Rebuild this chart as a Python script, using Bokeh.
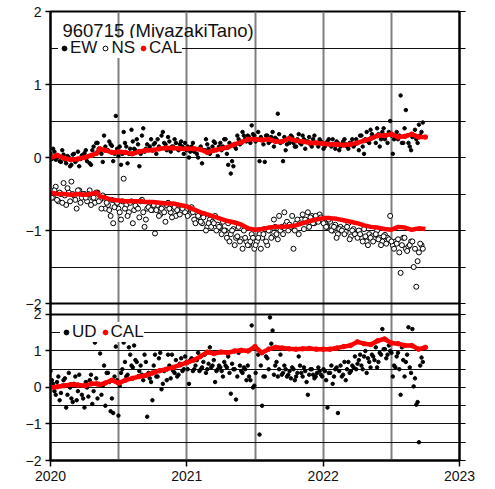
import numpy as np
from bokeh.plotting import figure
from bokeh.models import (FixedTicker, LinearAxis, Label, Legend, LegendItem,
                          Range1d, ColumnDataSource, Span, Grid)
from bokeh.embed import file_html
from bokeh.resources import INLINE

FONT = "Liberation Sans"

# ---------------- data ----------------
# observation epochs (decimal year): two interleaved weekly series
WEEK = np.arange(143)
T_OBS = 2020 + WEEK * 7 / 365.25
T_OBS2 = 2020 + (WEEK + 0.5) * 7 / 365.25

EW = [0.05, 0.12, -0.03, 0.02, -0.06, 0.04, -0.08, 0.0, -0.1, 0.05, -0.04, -0.12, 0.03,
      0.06, -0.05, -0.08, 0.1, 0.05, 0.2, 0.08, -0.06, 0.15, 0.1, 0.18, -0.05, 0.57,
      0.02, -0.1, 0.35, 0.15, 0.05, 0.38, 0.12, 0.25, -0.12, 0.3, 0.08, 0.18, 0.15,
      0.1, 0.2, 0.25, 0.12, 0.35, 0.18, 0.28, 0.08, 0.15, 0.2, 0.1, 0.22, 0.05,
      0.1, 0.0, 0.15, 0.08, 0.05, 0.12, -0.08, 0.1, 0.18, 0.05, 0.15, 0.2, 0.02,
      0.2, 0.15, 0.25, -0.1, -0.22, -0.12, 0.12, 0.25, 0.2, 0.3, 0.22, 0.28, 0.44,
      0.3, 0.25, -0.05, 0.25, -0.06, 0.3, 0.22, 0.35, 0.27, 0.6, 0.2, -0.05, 0.1,
      0.25, 0.3, 0.2, 0.15, 0.32, 0.18, 0.25, 0.22, 0.28, 0.15, 0.3, 0.2, 0.25,
      0.2, 0.15, 0.22, 0.18, 0.25, 0.12, 0.2, 0.15, 0.22, 0.18, 0.12, 0.2, 0.15,
      0.25, 0.1, 0.3, 0.05, 0.35, 0.2, 0.32, 0.28, 0.4, 0.15, 0.35, 0.25, 0.2,
      0.5, 0.05, 0.28, 0.25, 0.85, 0.2, 0.65, 0.2, 0.1, 0.3, 0.25, 0.45, 0.35]
EW2 = [-0.02, 0.08, 0.0, -0.05, 0.1, -0.03, 0.02, -0.12, 0.04, -0.06, 0.08, -0.02, 0.0,
       0.1, 0.02, -0.1, 0.15, 0.2, 0.12, 0.05, 0.3, 0.1, 0.22, 0.16, 0.05, 0.12,
       0.15, 0.05, 0.2, -0.08, 0.12, 0.22, 0.1, 0.18, 0.05, 0.4, 0.12, 0.1, 0.25,
       0.18, 0.05, 0.15, 0.3, 0.2, 0.1, 0.22, 0.15, 0.25, 0.12, 0.18, 0.15, 0.2,
       0.15, 0.08, 0.2, 0.12, 0.0, 0.15, 0.1, 0.25, 0.12, 0.08, 0.22, 0.1, 0.15,
       0.1, 0.25, 0.05, 0.2, -0.05, 0.15, 0.3, 0.18, 0.35, 0.25, 0.3, 0.2, 0.32,
       0.22, 0.35, 0.28, 0.18, 0.3, 0.2, 0.28, 0.15, 0.25, 0.32, 0.22, 0.28, 0.18,
       0.2, 0.28, 0.15, 0.25, 0.2, 0.3, 0.12, 0.22, 0.18, 0.25, 0.2, 0.15, 0.22,
       0.12, 0.2, 0.25, 0.15, 0.18, 0.22, 0.1, 0.18, 0.25, 0.15, 0.2, 0.25, 0.18,
       0.2, 0.3, 0.15, 0.25, 0.22, 0.38, 0.28, 0.2, 0.32, 0.25, 0.4, 0.3, 0.35,
       0.3, 0.25, 0.35, 0.3, 0.2, 0.4, 0.3, 0.15, 0.28, 0.38, 0.2, 0.3, 0.48]

NS = [-0.45, -0.55, -0.4, -0.6, -0.5, -0.35, -0.65, -0.48, -0.33, -0.52, -0.7, -0.45, -0.55,
      -0.5, -0.6, -0.45, -0.55, -0.62, -0.48, -0.58, -0.52, -0.7, -0.65, -0.8, -0.9, -0.6,
      -0.7, -0.85, -0.29, -0.65, -0.75, -0.6, -0.72, -0.68, -0.82, -0.58, -0.95, -0.7, -0.62,
      -0.72, -1.04, -0.65, -0.78, -0.68, -0.88, -0.62, -0.75, -0.7, -0.8, -0.66, -0.74, -0.7,
      -0.72, -0.78, -0.68, -0.85, -0.75, -0.82, -0.9, -0.78, -0.95, -0.85, -0.88, -0.8, -0.92,
      -0.95, -0.88, -1.0, -0.9, -1.05, -0.98, -1.1, -0.95, -1.12, -1.0, -1.15, -1.2, -1.05,
      -1.25, -1.15, -1.05, -1.1, -0.98, -1.2, -1.0, -1.08, -0.95, -1.12, -1.0, -1.05, -0.92,
      -1.0, -0.95, -1.25, -0.9, -1.05, -0.85, -0.98, -0.88, -0.95, -0.8, -0.9, -0.85, -0.78,
      -0.85, -0.9, -0.95, -0.88, -1.0, -0.92, -1.05, -0.95, -0.98, -1.02, -0.9, -1.08, -0.98,
      -1.05, -1.0, -1.1, -0.98, -1.15, -1.05, -1.08, -1.12, -1.0, -1.1, -1.15, -1.06, -1.1,
      -0.8, -1.2, -1.15, -1.12, -1.58, -1.1, -1.25, -1.22, -1.15, -1.5, -1.77, -1.3, -1.2]
NS2 = [-0.55, -0.45, -0.58, -0.48, -0.62, -0.52, -0.42, -0.6, -0.5, -0.58, -0.45, -0.62, -0.5,
       -0.55, -0.5, -0.65, -0.55, -0.48, -0.6, -0.7, -0.55, -0.62, -0.72, -0.58, -0.68, -0.62,
       -0.75, -0.6, -0.7, -0.8, -0.62, -0.9, -0.66, -0.7, -0.6, -0.75, -0.85, -0.68, -0.72,
       -0.65, -0.72, -0.8, -0.7, -0.75, -0.65, -0.7, -0.82, -0.68, -0.72, -0.78, -0.7, -0.75,
       -0.8, -0.7, -0.75, -0.9, -0.8, -0.88, -0.82, -1.0, -0.9, -0.95, -0.9, -1.0, -0.95,
       -1.05, -1.0, -1.1, -1.15, -1.0, -1.2, -1.08, -1.15, -1.25, -1.1, -1.2, -1.15, -1.1,
       -1.2, -1.1, -1.25, -1.05, -1.15, -1.0, -1.1, -0.85, -1.05, -0.8, -0.95, -0.75, -0.88,
       -0.92, -0.8, -1.0, -0.85, -0.9, -0.78, -0.85, -0.75, -0.82, -0.9, -0.8, -0.88, -0.82,
       -0.9, -0.95, -0.85, -1.0, -0.95, -1.1, -0.98, -1.0, -1.05, -0.95, -1.12, -1.0, -1.05,
       -1.1, -1.05, -1.15, -1.08, -1.2, -1.1, -1.15, -1.05, -1.12, -1.2, -1.08, -1.18, -1.12,
       -1.15, -1.25, -1.18, -1.3, -1.2, -1.1, -1.28, -1.2, -1.15, -1.25, -1.42, -1.18, -1.25]

UD = [0.45, 0.1, -0.2, 0.3, -0.15, 0.2, -0.55, 0.4, -0.3, 0.1, -0.35, 0.35, -0.2,
      -0.55, 0.0, 0.2, -0.45, 1.23, -0.3, 0.93, 0.05, -0.5, 0.4, -0.65, -0.7, 1.12,
      -0.77, 0.4, 1.23, 0.3, 1.1, 0.6, 1.15, 0.7, 0.45, 0.35, 0.9, -0.8, 0.25,
      -0.35, 0.9, 0.3, 0.95, 0.1, 0.5, 0.9, 0.25, 0.45, 0.75, 0.35, 0.8, 0.5,
      0.7, 0.1, 0.8, 0.5, 0.75, 0.45, 0.55, 0.9, 0.5, 1.1, 0.6, 0.15, 0.5,
      0.55, 0.3, 0.6, 0.85, -0.17, 0.5, -0.33, 0.95, 0.45, 0.55, 0.2, 0.3, 1.7,
      0.05, 1.05, -1.29, -0.5, 0.3, 0.8, 1.92, 1.56, 0.6, 0.3, 0.9, 0.4, 0.5,
      0.35, 0.25, 0.5, 0.3, 0.85, 0.4, 0.55, 0.15, 0.35, 0.5, 0.25, 0.4, 0.45,
      0.3, 0.45, -0.55, 0.4, 0.1, 0.5, -0.7, 0.6, 0.35, 0.2, 0.7, 0.45, 0.55,
      0.5, 0.75, 0.6, 0.85, 0.4, 0.7, 0.9, 0.75, 0.55, 0.95, 1.6, 1.05, 0.9,
      1.0, 0.3, 0.55, 0.95, -0.2, 0.75, 0.7, 1.65, 0.4, 0.03, -0.47, -1.5, 0.82]
UD2 = [0.2, -0.1, 0.15, -0.35, 0.05, 0.25, -0.2, 0.0, -0.4, 0.3, -0.1, 0.05, -0.3,
       0.15, -0.25, 0.35, -0.1, 0.25, 0.1, -0.2, 0.6, 0.4, 0.15, -0.3, 0.3, 0.2,
       0.05, 0.5, 0.7, 0.35, 0.9, 0.55, 0.75, 0.3, 0.6, 0.2, 0.7, 0.4, 0.15,
       0.6, 0.3, 0.8, -0.05, 0.45, 0.2, 0.6, 0.9, 0.4, 0.3, 0.65, 0.45, 0.85,
       0.5, 0.75, 0.45, 0.6, 0.95, 0.5, 0.7, 0.4, 0.65, 0.55, 0.75, 0.45, 0.6,
       0.45, 0.7, 0.55, 0.4, 0.65, 0.5, 0.3, 0.6, 0.4, 0.5, 0.6, 0.2, 0.0,
       0.4, 0.9, 0.6, 0.3, 0.85, 0.5, 1.2, 0.35, 0.7, 0.5, 0.35, 0.6, 0.3,
       0.45, 0.55, 0.2, 0.4, 0.6, 0.3, 0.45, -0.2, 0.5, 0.35, 0.3, 0.55, 0.35,
       0.5, 0.2, 0.4, 0.6, 0.3, 0.55, 0.45, 0.3, 0.7, 0.5, 0.4, 0.6, 0.85,
       0.65, 0.9, 0.5, 1.0, 0.8, 0.55, 0.85, 1.1, 0.7, 0.9, 1.05, 0.8, 1.15,
       0.95, 0.6, 0.85, 0.5, 1.1, 0.3, 0.9, 0.55, 1.6, 0.25, -0.4, 0.6, 0.7]

T_CAL = [2020.0, 2020.05, 2020.1, 2020.15, 2020.2, 2020.25, 2020.3, 2020.34, 2020.36, 2020.4,
         2020.45, 2020.5, 2020.55, 2020.6, 2020.65, 2020.7, 2020.75, 2020.8, 2020.85, 2020.9,
         2020.95, 2021.0, 2021.05, 2021.1, 2021.15, 2021.2, 2021.25, 2021.3, 2021.35, 2021.4,
         2021.45, 2021.5, 2021.55, 2021.6, 2021.65, 2021.7, 2021.75, 2021.8, 2021.85, 2021.9,
         2021.95, 2022.0, 2022.05, 2022.1, 2022.15, 2022.2, 2022.25, 2022.3, 2022.35, 2022.4,
         2022.45, 2022.5, 2022.55, 2022.6, 2022.65, 2022.7, 2022.75]

EW_CAL = [0.0, 0.03, -0.01, -0.03, -0.02, 0.0, 0.03, 0.06, 0.12, 0.1,
          0.07, 0.08, 0.07, 0.05, 0.08, 0.1, 0.1, 0.12, 0.13, 0.13,
          0.12, 0.12, 0.12, 0.11, 0.07, 0.1, 0.12, 0.14, 0.18, 0.21,
          0.25, 0.25, 0.24, 0.25, 0.22, 0.22, 0.26, 0.23, 0.22, 0.2,
          0.2, 0.19, 0.18, 0.18, 0.17, 0.18, 0.2, 0.23, 0.26, 0.3,
          0.3, 0.32, 0.28, 0.29, 0.32, 0.28, 0.28]

NS_CAL = [-0.48, -0.5, -0.5, -0.51, -0.5, -0.51, -0.5, -0.48, -0.53, -0.55,
          -0.58, -0.59, -0.6, -0.6, -0.6, -0.61, -0.61, -0.62, -0.63, -0.63,
          -0.65, -0.67, -0.71, -0.75, -0.78, -0.81, -0.84, -0.87, -0.89, -0.92,
          -0.97, -0.99, -0.98, -0.96, -0.95, -0.95, -0.94, -0.93, -0.9, -0.87,
          -0.85, -0.83, -0.83, -0.84, -0.86, -0.88, -0.9, -0.93, -0.95, -0.96,
          -0.98, -0.99, -0.95, -0.96, -0.99, -0.97, -0.98]

UD_CAL = [0.0, 0.02, 0.05, 0.08, 0.07, 0.05, 0.1, 0.1, 0.08, 0.12,
          0.2, 0.12, 0.2, 0.25, 0.3, 0.33, 0.4, 0.46, 0.5, 0.55,
          0.62, 0.68, 0.75, 0.85, 0.97, 0.93, 0.97, 0.95, 1.0, 1.02,
          1.0, 1.12, 0.95, 1.05, 1.1, 1.08, 1.06, 1.05, 1.06, 1.07,
          1.05, 1.05, 1.05, 1.08, 1.12, 1.15, 1.25, 1.2, 1.18, 1.28,
          1.33, 1.22, 1.2, 1.15, 1.15, 1.05, 1.1]

Y_LABEL_TICKS = [-2, -1, 0, 1, 2]
Y_GRID_TICKS = [-1.5, -1, -0.5, 0, 0.5, 1, 1.5]
Y_RIGHT_TICKS = [-2, -1.5, -1, -0.5, 0, 0.5, 1, 1.5, 2]
X_GRID_TICKS = [2020.5, 2021, 2021.5, 2022, 2022.5]
X_LABEL_TICKS = [2020, 2021, 2022, 2023]

# one frame holds both panels: the main y range is in EW/NS units (top panel),
# the "ud" range places the UD panel in the lower part of the same frame
MAIN_RANGE = (-4.15, 2.0)
UD_RANGE = (-2.0, 10.3)


def ud_to_main(v):
    k = (MAIN_RANGE[1] - MAIN_RANGE[0]) / (UD_RANGE[1] - UD_RANGE[0])
    return round(MAIN_RANGE[0] + (v - UD_RANGE[0]) * k, 6)


def lab(v):
    v = int(v)
    return ("\u2212%d" % -v) if v < 0 else str(v)


obs = ColumnDataSource(dict(t=np.concatenate([T_OBS, T_OBS2]),
                            ew=EW + EW2, ns=NS + NS2, ud=UD + UD2))
cal = ColumnDataSource(dict(t=T_CAL, ew=EW_CAL, ns=NS_CAL, ud=UD_CAL))

RED = "#ff0000"
CAL_W = 4.5
INK = "#111111"

p = figure(frame_width=409, frame_height=449, x_range=Range1d(2020, 2023),
           y_range=Range1d(*MAIN_RANGE), output_backend="svg", toolbar_location=None,
           min_border_left=50, min_border_right=24, min_border_top=11,
           min_border_bottom=0)
p.extra_y_ranges = {"ud": Range1d(*UD_RANGE)}
p.outline_line_color = "black"
p.outline_line_width = 2
p.background_fill_color = "white"
p.border_fill_color = "white"

# grids
p.xgrid.ticker = FixedTicker(ticks=X_GRID_TICKS)
p.xgrid.grid_line_color = "#7f7f7f"
p.xgrid.grid_line_width = 2
grid_pos = list(Y_GRID_TICKS) + [ud_to_main(v) for v in Y_GRID_TICKS]
p.ygrid.ticker = FixedTicker(ticks=grid_pos)
p.ygrid.grid_line_color = INK
p.ygrid.grid_line_width = 1.2
# panel borders (bottom of upper panel, top of lower panel)
p.add_layout(Span(location=Y_LABEL_TICKS[0], dimension="width", line_color="black",
                  line_width=2))
p.add_layout(Span(location=ud_to_main(Y_LABEL_TICKS[-1]), dimension="width",
                  line_color="black", line_width=2))

# left axis: labels of both panels
left_pos = [float(v) for v in Y_LABEL_TICKS] + [ud_to_main(v) for v in Y_LABEL_TICKS]
left_lab = [lab(v) for v in Y_LABEL_TICKS] * 2
ax = p.yaxis[0]
ax.ticker = FixedTicker(ticks=left_pos)
ax.major_label_overrides = dict(zip(left_pos, left_lab))
ax.major_tick_out = 5
ax.major_tick_in = 0
ax.major_tick_line_width = 1.5
ax.minor_tick_line_color = None
ax.axis_line_width = 2
ax.major_label_standoff = 4
ax.major_label_text_font = FONT
ax.major_label_text_font_size = "14px"
ax.major_label_text_color = INK

# right axis: outward ticks only
right_pos = [float(v) for v in Y_RIGHT_TICKS] + [ud_to_main(v) for v in Y_RIGHT_TICKS]
right = LinearAxis(ticker=FixedTicker(ticks=right_pos),
                   major_label_overrides={t: "" for t in right_pos},
                   major_label_standoff=0, major_tick_out=6, major_tick_in=0,
                   minor_tick_line_color=None, axis_line_width=2,
                   major_tick_line_width=1.2)
p.add_layout(right, "right")

# bottom axis
xa = p.xaxis[0]
xa.ticker = FixedTicker(ticks=X_LABEL_TICKS)
xa.major_label_overrides = {v: str(v) for v in X_LABEL_TICKS}
xa.major_tick_out = 6
xa.major_tick_in = 0
xa.minor_tick_line_color = None
xa.axis_line_width = 2
xa.major_tick_line_width = 1.5
xa.major_label_standoff = 4
xa.major_label_text_font = FONT
xa.major_label_text_font_size = "14px"
xa.major_label_text_color = INK

# ---------------- upper panel data ----------------
ew_r = p.scatter("t", "ew", source=obs, size=3.5, color="black")
ns_r = p.scatter("t", "ns", source=obs, size=5, line_color="black",
                 fill_color="white", line_width=1)
cal_dot1 = p.scatter("t", "ew", source=cal, size=CAL_W, color=RED)
p.line("t", "ew", source=cal, line_color=RED, line_width=CAL_W)
p.line("t", "ns", source=cal, line_color=RED, line_width=CAL_W)

# ---------------- lower panel data ----------------
ud_r = p.scatter("t", "ud", source=obs, size=3.5, color="black", y_range_name="ud")
cal_dot2 = p.scatter("t", "ud", source=cal, size=CAL_W, color=RED, y_range_name="ud")
p.line("t", "ud", source=cal, line_color=RED, line_width=CAL_W, y_range_name="ud")

# ---------------- texts ----------------
p.add_layout(Label(x=2020.088, y=1.74, text="960715 (MiyazakiTano)", text_font=FONT,
                   text_font_size="18.5px", text_baseline="middle", text_color=INK))
p.add_layout(Label(x=2020, y=-0.2, x_offset=-4, text="(cm)", text_font=FONT,
                   text_font_size="12px", text_align="right", text_baseline="middle",
                   text_color=INK))
p.add_layout(Label(x=2020, y=-0.41, x_offset=-4, y_range_name="ud", text="(cm)",
                   text_font=FONT, text_font_size="12px", text_align="right",
                   text_baseline="middle", text_color=INK))

leg_kw = dict(orientation="horizontal", background_fill_color="white",
              background_fill_alpha=1, border_line_color=None, padding=0, margin=0,
              spacing=2, glyph_width=12, glyph_height=16, label_standoff=0,
              label_height=16, label_text_font=FONT, label_text_font_size="17px",
              label_text_color=INK)
leg1 = Legend(items=[LegendItem(label="EW", renderers=[ew_r]),
                     LegendItem(label="NS", renderers=[ns_r]),
                     LegendItem(label="CAL", renderers=[cal_dot1])],
              location=(8, 402), **leg_kw)
leg2 = Legend(items=[LegendItem(label="UD", renderers=[ud_r]),
                     LegendItem(label="CAL", renderers=[cal_dot2])],
              location=(10, 118), **leg_kw)
p.add_layout(leg1)
p.add_layout(leg2)

open("out.html", "w").write(file_html(p, INLINE))
